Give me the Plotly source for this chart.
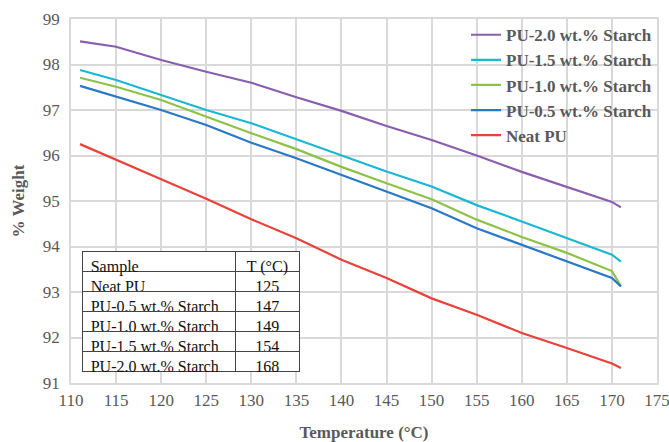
import plotly.graph_objects as go

temperature = [111, 115, 120, 125, 130, 135, 140, 145, 150, 155, 160, 165, 170, 171]
pu_20 = [98.51, 98.39, 98.10, 97.84, 97.60, 97.28, 96.98, 96.65, 96.34, 96.00, 95.64, 95.31, 94.98, 94.86]
pu_15 = [97.88, 97.66, 97.33, 97.00, 96.71, 96.36, 96.01, 95.65, 95.32, 94.91, 94.55, 94.18, 93.82, 93.67]
pu_10 = [97.71, 97.51, 97.22, 96.85, 96.49, 96.14, 95.75, 95.39, 95.04, 94.59, 94.21, 93.86, 93.46, 93.13]
pu_05 = [97.53, 97.29, 97.00, 96.67, 96.28, 95.94, 95.57, 95.21, 94.84, 94.40, 94.04, 93.67, 93.31, 93.12]
neat = [96.25, 95.90, 95.48, 95.05, 94.60, 94.18, 93.71, 93.31, 92.86, 92.50, 92.10, 91.77, 91.43, 91.33]

series_names = ["PU-2.0 wt.% Starch", "PU-1.5 wt.% Starch", "PU-1.0 wt.% Starch",
                "PU-0.5 wt.% Starch", "Neat PU"]
series_values = [pu_20, pu_15, pu_10, pu_05, neat]
colors = ["#8A5EAE", "#1AB8D2", "#8DC14A", "#2A78C6", "#E8423A"]

table_samples = ["Neat PU", "PU-0.5 wt.% Starch", "PU-1.0 wt.% Starch",
                 "PU-1.5 wt.% Starch", "PU-2.0 wt.% Starch"]
table_temps = ["125", "147", "149", "154", "168"]

x_ticks = list(range(110, 176, 5))
y_ticks = list(range(91, 100, 1))

fig = go.Figure()
for name, vals, col in zip(series_names, series_values, colors):
    fig.add_trace(go.Scatter(x=temperature, y=vals, mode="lines", name="<b>" + name + "</b>",
                             line=dict(color=col, width=2.2)))

fig.add_trace(go.Table(
    domain=dict(x=[0.02, 0.392], y=[0.0, 0.36]),
    columnwidth=[153, 65],
    header=dict(values=["Sample", "T (°C)"], align=["left", "center"],
                fill_color="white", line=dict(color="#444444", width=1),
                font=dict(family="Liberation Serif", size=16, color="#111111"),
                height=20),
    cells=dict(values=[table_samples, table_temps], align=["left", "center"],
               fill_color="white", line=dict(color="#444444", width=1),
               font=dict(family="Liberation Serif", size=16, color="#111111"),
               height=20),
))

fig.update_layout(
    width=669, height=442,
    margin=dict(l=71, r=12, t=19, b=59),
    paper_bgcolor="white", plot_bgcolor="white",
    showlegend=True,
    legend=dict(x=1.0, y=1.005, xanchor="right", yanchor="top",
                bgcolor="rgba(0,0,0,0)", tracegroupgap=0,
                font=dict(family="Liberation Serif", size=17, color="#595959"),
                itemwidth=30),
    xaxis=dict(range=[110, 175], tickvals=x_ticks, showgrid=True, automargin=False,
               gridcolor="#D9D9D9", gridwidth=1.5, showline=True, linecolor="#D9D9D9",
               linewidth=1.5, mirror=True, zeroline=False, ticks="",
               ticklabelstandoff=1, ticklabeloverflow="allow",
               tickfont=dict(family="Liberation Serif", size=17, color="#595959"),
               title=dict(text="<b>Temperature (°C)</b>", standoff=24,
                          font=dict(family="Liberation Serif", size=17, color="#595959"))),
    yaxis=dict(range=[91, 99], tickvals=y_ticks, showgrid=True, automargin=False,
               gridcolor="#D9D9D9", gridwidth=1.5, showline=True, linecolor="#D9D9D9",
               linewidth=1.5, mirror=True, zeroline=False, ticks="",
               ticklabelstandoff=6, ticklabeloverflow="allow",
               tickfont=dict(family="Liberation Serif", size=17, color="#595959"),
               title=dict(text="<b>% Weight</b>", standoff=14,
                          font=dict(family="Liberation Serif", size=17, color="#595959"))),
)

fig.write_html("out.html")
